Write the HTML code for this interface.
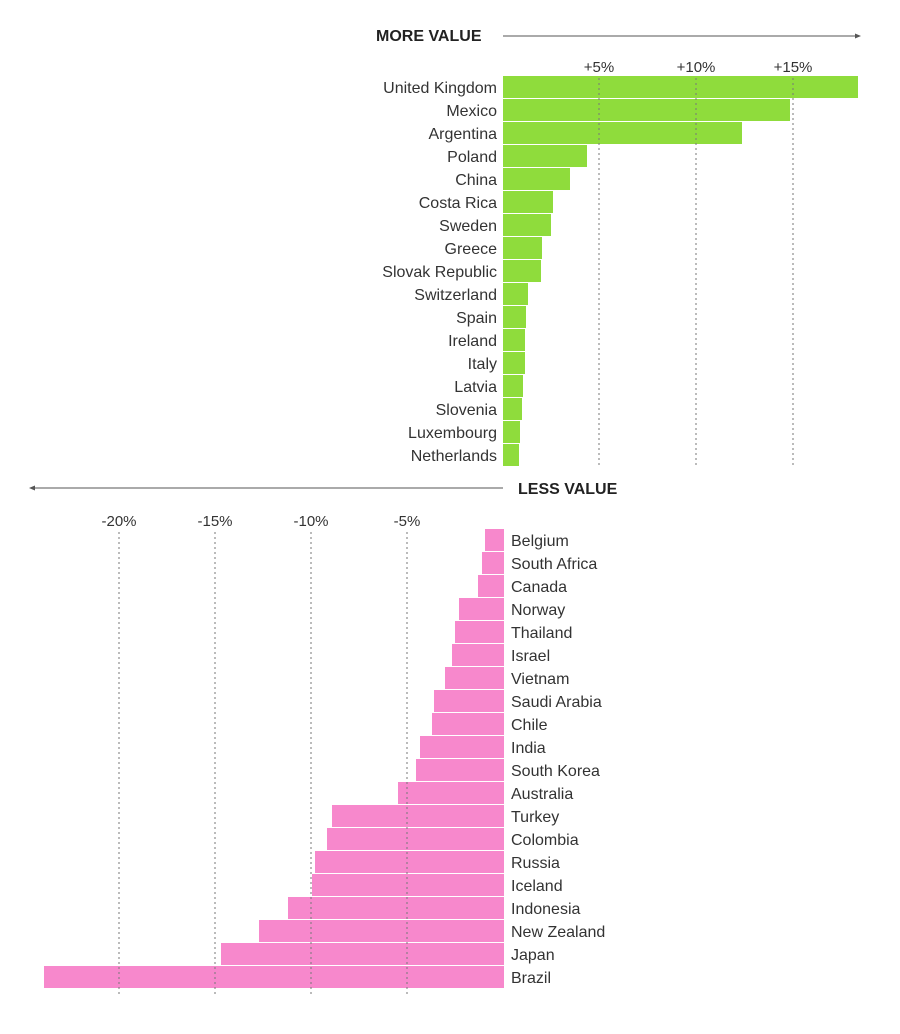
<!DOCTYPE html><html><head><style>body{margin:0;background:#fff}svg text{font-family:"Liberation Sans",sans-serif;fill:#333}</style></head><body>
<svg width="900" height="1029" xmlns="http://www.w3.org/2000/svg">
<text x="376" y="41" font-size="16" font-weight="bold" style="fill:#222">MORE VALUE</text>
<line x1="503" y1="36" x2="858" y2="36" stroke="#555" stroke-width="1"/>
<polygon points="861,36 855,33.5 855,38.5" fill="#555"/>
<text x="518" y="494" font-size="16" font-weight="bold" style="fill:#222">LESS VALUE</text>
<line x1="32" y1="488" x2="503" y2="488" stroke="#555" stroke-width="1"/>
<polygon points="29,488 35,485.5 35,490.5" fill="#555"/>
<g font-size="15" text-anchor="middle">
<text x="599" y="72">+5%</text><text x="696" y="72">+10%</text><text x="793" y="72">+15%</text>
<text x="119" y="526">-20%</text><text x="215" y="526">-15%</text><text x="311" y="526">-10%</text><text x="407" y="526">-5%</text>
</g>
<g fill="#8fdc3c">
<rect x="503" y="76" width="355" height="22"/><rect x="503" y="99" width="287" height="22"/><rect x="503" y="122" width="239" height="22"/><rect x="503" y="145" width="84" height="22"/><rect x="503" y="168" width="67" height="22"/><rect x="503" y="191" width="50" height="22"/><rect x="503" y="214" width="48" height="22"/><rect x="503" y="237" width="39" height="22"/><rect x="503" y="260" width="38" height="22"/><rect x="503" y="283" width="25" height="22"/><rect x="503" y="306" width="23" height="22"/><rect x="503" y="329" width="22" height="22"/><rect x="503" y="352" width="22" height="22"/><rect x="503" y="375" width="20" height="22"/><rect x="503" y="398" width="19" height="22"/><rect x="503" y="421" width="17" height="22"/><rect x="503" y="444" width="16" height="22"/>
</g>
<g fill="#f788cc">
<rect x="485" y="529" width="19" height="22"/><rect x="482" y="552" width="22" height="22"/><rect x="478" y="575" width="26" height="22"/><rect x="459" y="598" width="45" height="22"/><rect x="455" y="621" width="49" height="22"/><rect x="452" y="644" width="52" height="22"/><rect x="445" y="667" width="59" height="22"/><rect x="434" y="690" width="70" height="22"/><rect x="432" y="713" width="72" height="22"/><rect x="420" y="736" width="84" height="22"/><rect x="416" y="759" width="88" height="22"/><rect x="398" y="782" width="106" height="22"/><rect x="332" y="805" width="172" height="22"/><rect x="327" y="828" width="177" height="22"/><rect x="315" y="851" width="189" height="22"/><rect x="312" y="874" width="192" height="22"/><rect x="288" y="897" width="216" height="22"/><rect x="259" y="920" width="245" height="22"/><rect x="221" y="943" width="283" height="22"/><rect x="44" y="966" width="460" height="22"/>
</g>
<g stroke="#777" stroke-dasharray="2,3" stroke-width="1">
<line x1="599" y1="78" x2="599" y2="468"/><line x1="696" y1="78" x2="696" y2="468"/><line x1="793" y1="78" x2="793" y2="468"/>
<line x1="119" y1="532" x2="119" y2="995"/><line x1="215" y1="532" x2="215" y2="995"/><line x1="311" y1="532" x2="311" y2="995"/><line x1="407" y1="532" x2="407" y2="995"/>
</g>
<g font-size="16" text-anchor="end">
<text x="497" y="93">United Kingdom</text><text x="497" y="116">Mexico</text><text x="497" y="139">Argentina</text><text x="497" y="162">Poland</text><text x="497" y="185">China</text><text x="497" y="208">Costa Rica</text><text x="497" y="231">Sweden</text><text x="497" y="254">Greece</text><text x="497" y="277">Slovak Republic</text><text x="497" y="300">Switzerland</text><text x="497" y="323">Spain</text><text x="497" y="346">Ireland</text><text x="497" y="369">Italy</text><text x="497" y="392">Latvia</text><text x="497" y="415">Slovenia</text><text x="497" y="438">Luxembourg</text><text x="497" y="461">Netherlands</text>
</g>
<g font-size="16">
<text x="511" y="546">Belgium</text><text x="511" y="569">South Africa</text><text x="511" y="592">Canada</text><text x="511" y="615">Norway</text><text x="511" y="638">Thailand</text><text x="511" y="661">Israel</text><text x="511" y="684">Vietnam</text><text x="511" y="707">Saudi Arabia</text><text x="511" y="730">Chile</text><text x="511" y="753">India</text><text x="511" y="776">South Korea</text><text x="511" y="799">Australia</text><text x="511" y="822">Turkey</text><text x="511" y="845">Colombia</text><text x="511" y="868">Russia</text><text x="511" y="891">Iceland</text><text x="511" y="914">Indonesia</text><text x="511" y="937">New Zealand</text><text x="511" y="960">Japan</text><text x="511" y="983">Brazil</text>
</g>
</svg>
</body></html>
